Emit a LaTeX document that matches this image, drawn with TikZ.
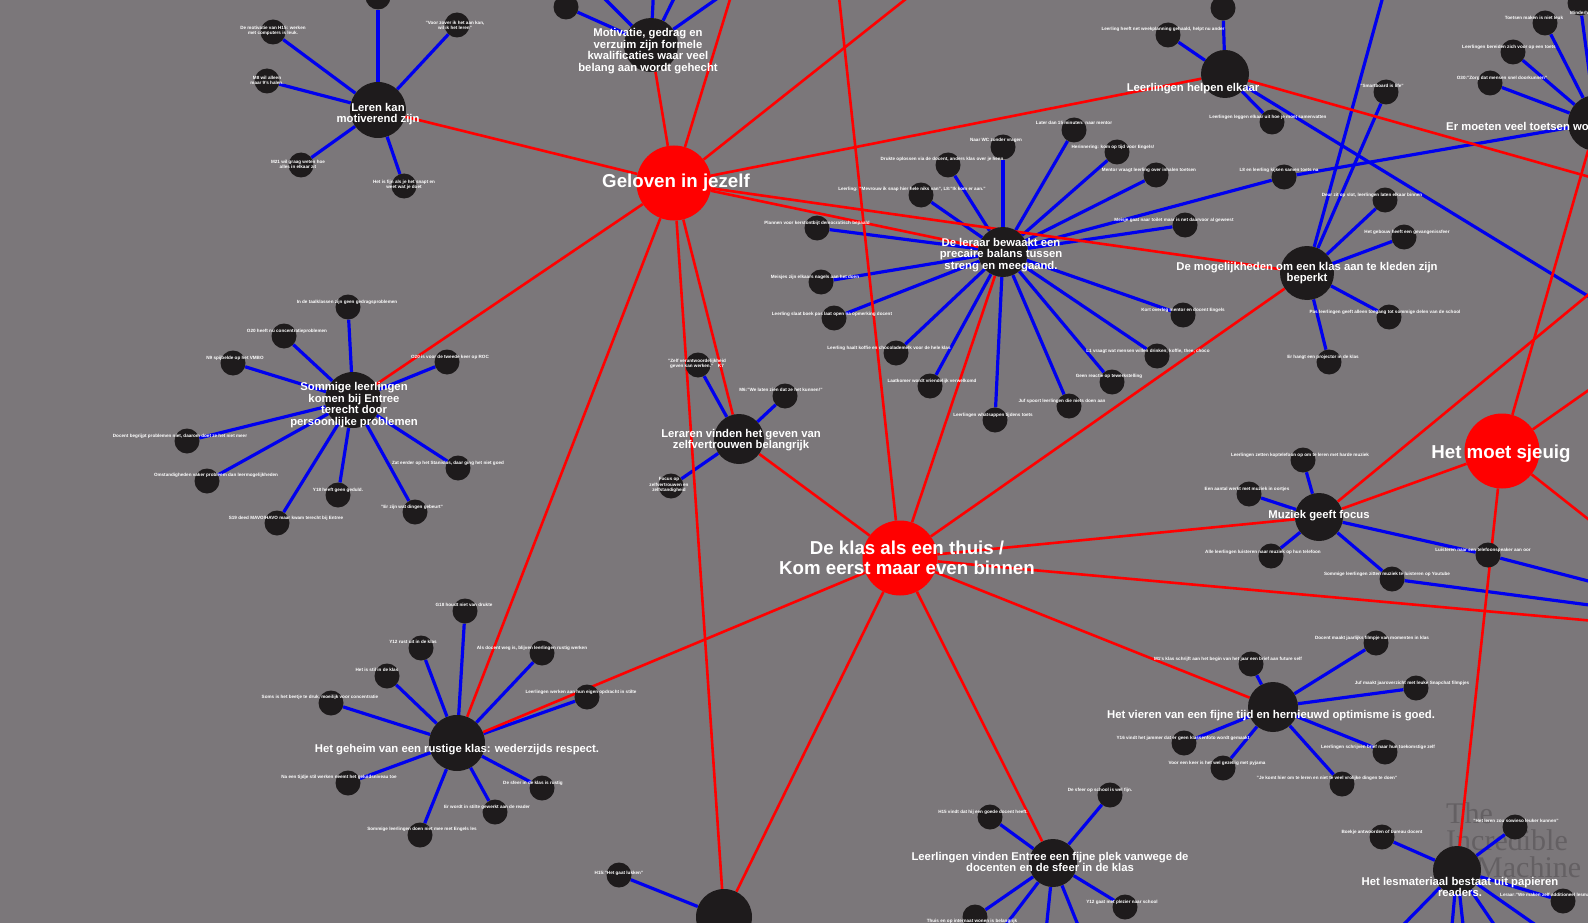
\documentclass[tikz,border=0pt]{standalone}
\usepackage{fontspec}
\setmainfont{Liberation Sans}
\newfontfamily\merkfont{Liberation Serif}
\usepackage{tikz}
\definecolor{achtergrond}{RGB}{123,119,122}
\definecolor{kernrood}{RGB}{255,0,0}
\definecolor{bolzwart}{RGB}{30,27,28}
\definecolor{lijnblauw}{RGB}{0,0,238}
\definecolor{merkgrijs}{RGB}{100,96,99}
\pgfdeclarelayer{bg}
\pgfdeclarelayer{lijnen}
\pgfsetlayers{bg,lijnen,main}

\begin{document}
\begin{tikzpicture}[x=1pt, y=-1pt,
	hub/.style={circle, fill=kernrood, minimum size=75pt, inner sep=0pt},
	thema/.style={circle, fill=bolzwart, minimum size=52pt, inner sep=0pt},
	blad/.style={circle, fill=bolzwart, minimum size=25pt, inner sep=0pt},
	hubtekst/.style={text=white, inner sep=0pt, align=center, font=\fontsize{18.7}{20}\selectfont\bfseries},
	thematekst/.style={text=white, inner sep=0pt, align=center, font=\fontsize{11.3}{11.6}\selectfont\bfseries},
	bladtekst/.style={text=white, inner sep=0pt, align=center, font=\fontsize{4.6}{5.2}\selectfont\bfseries},
	merk/.style={text=merkgrijs, inner sep=0pt, anchor=west, font=\merkfont\fontsize{30}{30}\selectfont},
	rood/.style={draw=kernrood, line width=2.6pt},
	blauw/.style={draw=lijnblauw, line width=3.2pt}]
	\useasboundingbox (0,0) rectangle (1588,923);
	\begin{pgfonlayer}{bg}
		\fill[achtergrond] (0,0) rectangle (1588,923);
		\node (wm1) at (1446,813) [merk] {The};
		\node (wm2) at (1446,840) [merk] {Incredible};
		\node (wm3) at (1476,867) [merk] {Machine};
	\end{pgfonlayer}

	\node (G) at (674,183) [hub] {};
	\node (K) at (900,558) [hub] {};
	\node (S) at (1502,451) [hub] {};

	\node (T1) at (378,110) [thema, minimum size=56pt] {};
	\node (T2) at (651,45) [thema, minimum size=54pt] {};
	\node (T3) at (1225,74) [thema, minimum size=48pt] {};
	\node (T4) at (1003,252) [thema, minimum size=50pt] {};
	\node (T5) at (1307,273) [thema, minimum size=54pt] {};
	\node (T6) at (1596,123) [thema, minimum size=56pt] {};
	\node (T7) at (353,400) [thema, minimum size=56pt] {};
	\node (T8) at (739,439) [thema, minimum size=50pt] {};
	\node (T9) at (1319,517) [thema, minimum size=48pt] {};
	\node (T10) at (457,743) [thema, minimum size=56pt] {};
	\node (T11) at (1273,707) [thema, minimum size=50pt] {};
	\node (T12) at (1053,863) [thema, minimum size=48pt] {};
	\node (T13) at (1457,870) [thema, minimum size=48pt] {};
	\node (T14) at (724,917) [thema, minimum size=56pt] {};

	\node (l1a) at (378,-3) [blad] {};
	\node (l1b) at (273,32) [blad] {};
	\node (l1c) at (267,81) [blad] {};
	\node (l1d) at (301,165) [blad] {};
	\node (l1e) at (404,186) [blad] {};
	\node (l1f) at (457,25) [blad] {};

	\node (l2a) at (566,7) [blad] {};

	\node (l3a) at (1223,8) [blad] {};
	\node (l3b) at (1168,35) [blad] {};
	\node (l3c) at (1272,122) [blad] {};

	\node (l4a) at (1003,147) [blad] {};
	\node (l4b) at (1074,130) [blad] {};
	\node (l4c) at (1117,152) [blad] {};
	\node (l4d) at (948,165) [blad] {};
	\node (l4e) at (1156,175) [blad] {};
	\node (l4f) at (921,195) [blad] {};
	\node (l4g) at (1284,177) [blad] {};
	\node (l4h) at (1185,225) [blad] {};
	\node (l4i) at (817,228) [blad] {};
	\node (l4j) at (821,282) [blad] {};
	\node (l4k) at (834,318) [blad] {};
	\node (l4l) at (896,353) [blad] {};
	\node (l4m) at (930,386) [blad] {};
	\node (l4n) at (995,420) [blad] {};
	\node (l4o) at (1069,406) [blad] {};
	\node (l4p) at (1112,382) [blad] {};
	\node (l4q) at (1157,356) [blad] {};
	\node (l4r) at (1183,315) [blad] {};

	\node (l5a) at (1386,92) [blad] {};
	\node (l5b) at (1385,200) [blad] {};
	\node (l5c) at (1404,237) [blad] {};
	\node (l5d) at (1389,317) [blad] {};
	\node (l5e) at (1329,362) [blad] {};

	\node (l6a) at (1545,23) [blad] {};
	\node (l6b) at (1513,52) [blad] {};
	\node (l6c) at (1490,83) [blad] {};
	\node (l6d) at (1580,3) [blad] {};

	\node (l7a) at (348,307) [blad] {};
	\node (l7b) at (284,336) [blad] {};
	\node (l7c) at (233,363) [blad] {};
	\node (l7d) at (447,362) [blad] {};
	\node (l7e) at (187,441) [blad] {};
	\node (l7f) at (207,481) [blad] {};
	\node (l7g) at (338,495) [blad] {};
	\node (l7h) at (277,523) [blad] {};
	\node (l7i) at (415,512) [blad] {};
	\node (l7j) at (458,468) [blad] {};

	\node (l8a) at (698,365) [blad] {};
	\node (l8b) at (785,396) [blad] {};
	\node (l8c) at (671,486) [blad] {};

	\node (l9a) at (1303,460) [blad] {};
	\node (l9b) at (1249,494) [blad] {};
	\node (l9c) at (1271,556) [blad] {};
	\node (l9d) at (1392,579) [blad] {};
	\node (l9e) at (1488,555) [blad] {};

	\node (l10a) at (465,611) [blad] {};
	\node (l10b) at (421,648) [blad] {};
	\node (l10c) at (387,676) [blad] {};
	\node (l10d) at (331,703) [blad] {};
	\node (l10e) at (542,653) [blad] {};
	\node (l10f) at (587,697) [blad] {};
	\node (l10g) at (348,783) [blad] {};
	\node (l10h) at (542,788) [blad] {};
	\node (l10i) at (495,812) [blad] {};
	\node (l10j) at (420,835) [blad] {};

	\node (l11a) at (1376,643) [blad] {};
	\node (l11b) at (1251,664) [blad] {};
	\node (l11c) at (1416,688) [blad] {};
	\node (l11d) at (1184,743) [blad] {};
	\node (l11e) at (1223,768) [blad] {};
	\node (l11f) at (1385,752) [blad] {};
	\node (l11g) at (1342,784) [blad] {};

	\node (l12a) at (990,817) [blad] {};
	\node (l12b) at (1110,795) [blad] {};
	\node (l12c) at (1125,907) [blad] {};
	\node (l12d) at (975,917) [blad] {};

	\node (l13a) at (1382,837) [blad] {};
	\node (l13b) at (1515,827) [blad] {};
	\node (l13c) at (1563,901) [blad] {};

	\node (l14a) at (619,875) [blad] {};

	\coordinate (t2u1) at (566,-40);
	\coordinate (t2u2) at (655,-40);
	\coordinate (t2u3) at (693,-40);
	\coordinate (t2u4) at (772,-40);
	\coordinate (t3u) at (1650,334);
	\coordinate (t3r) at (1650,194);
	\coordinate (t5u) at (1393,-40);
	\coordinate (t9a) at (1650,597);
	\coordinate (t9b) at (1650,613);
	\coordinate (t9r) at (1640,252);
	\coordinate (t12a) at (979,960);
	\coordinate (t12b) at (1043,960);
	\coordinate (t12c) at (1092,960);
	\coordinate (t13a) at (1359,970);
	\coordinate (t13b) at (1448,970);
	\coordinate (t13c) at (1468,970);
	\coordinate (t13d) at (1525,970);
	\coordinate (t13e) at (1600,970);
	\coordinate (gU1) at (742,-40);
	\coordinate (gU2) at (955,-40);
	\coordinate (kU) at (835,-40);
	\coordinate (kR) at (1650,626);
	\coordinate (sR1) at (1650,347);
	\coordinate (sR2) at (1650,568);

	\begin{pgfonlayer}{lijnen}
		\draw[blauw] (T1) edge (l1a) edge (l1b) edge (l1c) edge (l1d) edge (l1e) edge (l1f);
		\draw[blauw] (T2) edge (l2a) edge (t2u1) edge (t2u2) edge (t2u3) edge (t2u4);
		\draw[blauw] (T3) edge (l3a) edge (l3b) edge (l3c) edge (t3u);
		\draw[blauw] (T4) edge (l4a) edge (l4b) edge (l4c) edge (l4d) edge (l4e) edge (l4f)
			edge (l4g) edge (l4h) edge (l4i) edge (l4j) edge (l4k) edge (l4l)
			edge (l4m) edge (l4n) edge (l4o) edge (l4p) edge (l4q) edge (l4r);
		\draw[blauw] (T5) edge (l5a) edge (l5b) edge (l5c) edge (l5d) edge (l5e) edge (t5u);
		\draw[blauw] (T6) edge (l6a) edge (l6b) edge (l6c) edge (l6d) edge (l4g);
		\draw[blauw] (T7) edge (l7a) edge (l7b) edge (l7c) edge (l7d) edge (l7e)
			edge (l7f) edge (l7g) edge (l7h) edge (l7i) edge (l7j);
		\draw[blauw] (T8) edge (l8a) edge (l8b) edge (l8c);
		\draw[blauw] (T9) edge (l9a) edge (l9b) edge (l9c) edge (l9d) edge (l9e);
		\draw[blauw] (l9e) -- (t9a);
		\draw[blauw] (l9d) -- (t9b);
		\draw[blauw] (T10) edge (l10a) edge (l10b) edge (l10c) edge (l10d) edge (l10e)
			edge (l10f) edge (l10g) edge (l10h) edge (l10i) edge (l10j);
		\draw[blauw] (T11) edge (l11a) edge (l11b) edge (l11c) edge (l11d) edge (l11e)
			edge (l11f) edge (l11g);
		\draw[blauw] (T12) edge (l12a) edge (l12b) edge (l12c) edge (l12d)
			edge (t12a) edge (t12b) edge (t12c);
		\draw[blauw] (T13) edge (l13a) edge (l13b) edge (l13c)
			edge (t13a) edge (t13b) edge (t13c) edge (t13d) edge (t13e);
		\draw[blauw] (T14) -- (l14a);

		\draw[rood] (G) edge (T1) edge (T2) edge (gU1) edge (gU2) edge (T3) edge (T4)
			edge (T5) edge (T7) edge (T8) edge (T10) edge (T14);
		\draw[rood] (K) edge (T8) edge (T4) edge (T5) edge (T9) edge (kR) edge (T11)
			edge (T12) edge (T14) edge (T10) edge (kU);
		\draw[rood] (S) edge (T9) edge (T6) edge (sR1) edge (sR2) edge (T13);
		\draw[rood] (T9) -- (t9r);
		\draw[rood] (T3) -- (t3r);
	\end{pgfonlayer}

	\node (G-t) at (676,183) [hubtekst] {Geloven in jezelf};
	\node (K-t) at (907,558) [hubtekst] {De klas als een thuis /\\Kom eerst maar even binnen};
	\node (S-t) at (1501,454) [hubtekst] {Het moet sjeuig};

	\node (T1-t) at (378,114) [thematekst] {Leren kan\\motiverend zijn};
	\node (T2-t) at (648,51) [thematekst] {Motivatie, gedrag en\\verzuim zijn formele\\kwalificaties waar veel\\belang aan wordt gehecht};
	\node (T3-t) at (1193,89) [thematekst] {Leerlingen helpen elkaar};
	\node (T4-t) at (1001,255) [thematekst] {De leraar bewaakt een\\precaire balans tussen\\streng en meegaand.};
	\node (T5-t) at (1307,273) [thematekst] {De mogelijkheden om een klas aan te kleden zijn\\beperkt};
	\node (T6-t) at (1446,126) [thematekst, anchor=west] {Er moeten veel toetsen worden};
	\node (T7-t) at (354,405) [thematekst] {Sommige leerlingen\\komen bij Entree\\terecht door\\persoonlijke problemen};
	\node (T8-t) at (741,440) [thematekst] {Leraren vinden het geven van\\zelfvertrouwen belangrijk};
	\node (T9-t) at (1319,516) [thematekst] {Muziek geeft focus};
	\node (T10-t) at (457,750) [thematekst] {Het geheim van een rustige klas: wederzijds respect.};
	\node (T11-t) at (1271,716) [thematekst] {Het vieren van een fijne tijd en hernieuwd optimisme is goed.};
	\node (T12-t) at (1050,862) [thematekst] {Leerlingen vinden Entree een fijne plek vanwege de\\docenten en de sfeer in de klas};
	\node (T13-t) at (1460,887) [thematekst] {Het lesmateriaal bestaat uit papieren\\readers.};

	\node (l1b-t) at (273,31) [bladtekst] {De motivatie van H15: werken\\met computers is leuk.};
	\node (l1c-t) at (267,80) [bladtekst] {M8 wil alleen\\maar 9's halen.};
	\node (l1d-t) at (298,164) [bladtekst] {M21 wil graag weten hoe\\alles in elkaar zit};
	\node (l1e-t) at (404,185) [bladtekst] {Het is fijn als je het snapt en\\weet wat je doet};
	\node (l1f-t) at (455,25) [bladtekst] {"Voor zover ik het aan kan,\\wil ik het leren"};

	\node (l3b-t) at (1163,29) [bladtekst] {Leerling heeft net weekplanning gehaald, helpt nu ander};
	\node (l3c-t) at (1268,117) [bladtekst] {Leerlingen leggen elkaar uit hoe je moet samenvatten};

	\node (l4a-t) at (996,140) [bladtekst] {Naar WC zonder vragen};
	\node (l4b-t) at (1074,123) [bladtekst] {Later dan 15 minuten: naar mentor};
	\node (l4c-t) at (1113,147) [bladtekst] {Herinnering: kom op tijd voor Engels!};
	\node (l4d-t) at (942,159) [bladtekst] {Drukte oplossen via de docent, anders klas over je heen};
	\node (l4e-t) at (1149,170) [bladtekst] {Mentor vraagt leerling over inhalen toetsen};
	\node (l4f-t) at (912,189) [bladtekst] {Leerling: "Mevrouw ik snap hier hele niks van", L8:"Ik kom er aan."};
	\node (l4g-t) at (1279,170) [bladtekst] {L8 en leerling kijken samen toets na};
	\node (l4h-t) at (1174,220) [bladtekst] {Meisje gaat naar toilet maar is net daarvoor al geweest};
	\node (l4i-t) at (817,223) [bladtekst] {Plannen voor kerstontbijt democratisch bepaald};
	\node (l4j-t) at (815,277) [bladtekst] {Meisjes zijn elkaars nagels aan het doen};
	\node (l4k-t) at (832,314) [bladtekst] {Leerling slaat boek pas laat open na opmerking docent};
	\node (l4l-t) at (889,348) [bladtekst] {Leerling haalt koffie en chocolademelk voor de hele klas};
	\node (l4m-t) at (932,381) [bladtekst] {Laatkomer wordt vriendelijk verwelkomd};
	\node (l4n-t) at (993,415) [bladtekst] {Leerlingen whatsappen tijdens toets};
	\node (l4o-t) at (1062,401) [bladtekst] {Juf spoort leerlingen die niets doen aan};
	\node (l4p-t) at (1109,376) [bladtekst] {Geen reactie op tewerkstelling};
	\node (l4q-t) at (1148,351) [bladtekst] {L1 vraagt wat mensen willen drinken; koffie, thee, choco};
	\node (l4r-t) at (1183,310) [bladtekst] {Kort overleg mentor en docent Engels};

	\node (l5a-t) at (1382,86) [bladtekst] {"Smartboard is life"};
	\node (l5b-t) at (1372,195) [bladtekst] {Deur zit op slot, leerlingen laten elkaar binnen};
	\node (l5c-t) at (1407,232) [bladtekst] {Het gebouw heeft een gevangenissfeer};
	\node (l5d-t) at (1385,312) [bladtekst] {Pas leerlingen geeft alleen toegang tot sommige delen van de school};
	\node (l5e-t) at (1323,357) [bladtekst] {Er hangt een projector in de klas};

	\node (l6a-t) at (1534,18) [bladtekst] {Toetsen maken is niet leuk};
	\node (l6b-t) at (1509,47) [bladtekst] {Leerlingen bereiden zich voor op een toets};
	\node (l6c-t) at (1502,78) [bladtekst] {O30:"Zorg dat mensen snel doorkunnen"};
	\node (l6d-t) at (1570,13) [bladtekst, anchor=west] {Minderheid};

	\node (l7a-t) at (347,302) [bladtekst] {In de taalklassen zijn geen gedragsproblemen};
	\node (l7b-t) at (287,331) [bladtekst] {O20 heeft nu concentratieproblemen};
	\node (l7c-t) at (235,358) [bladtekst] {N9 spijbelde op het VMBO};
	\node (l7d-t) at (450,357) [bladtekst] {O20 is voor de tweede keer op ROC};
	\node (l7e-t) at (180,436) [bladtekst] {Docent begrijpt problemen niet, daarom doet ze het niet meer};
	\node (l7f-t) at (216,475) [bladtekst] {Omstandigheden vaker probleem dan leermogelijkheden};
	\node (l7g-t) at (338,490) [bladtekst] {Y18 heeft geen geduld.};
	\node (l7h-t) at (286,518) [bladtekst] {S19 deed MAVO/HAVO maar kwam terecht bij Entree};
	\node (l7i-t) at (412,507) [bladtekst] {"Er zijn wat dingen gebeurt"};
	\node (l7j-t) at (448,463) [bladtekst] {Zat eerder op het Stanislas, daar ging het niet goed};

	\node (l8a-t) at (697,364) [bladtekst] {"Zelf verantwoordelijkheid\\geven kan werken."\quad K7};
	\node (l8b-t) at (781,390) [bladtekst] {M6:"We laten zien dat ze het kunnen!"};
	\node (l8c-t) at (669,485) [bladtekst] {Focus op\\zelfvertrouwen en\\zelfstandigheid};

	\node (l9a-t) at (1300,455) [bladtekst] {Leerlingen zetten koptelefoon op om te leren met harde muziek};
	\node (l9b-t) at (1247,489) [bladtekst] {Een aantal werkt met muziek in oortjes};
	\node (l9c-t) at (1263,552) [bladtekst] {Alle leerlingen luisteren naar muziek op hun telefoon};
	\node (l9d-t) at (1387,574) [bladtekst] {Sommige leerlingen zitten muziek te luisteren op Youtube};
	\node (l9e-t) at (1483,550) [bladtekst] {Luisteren naar een telefoonspeaker aan oor};

	\node (l10a-t) at (464,605) [bladtekst] {G18 houdt niet van drukte};
	\node (l10b-t) at (413,642) [bladtekst] {Y12 rust uit in de klas};
	\node (l10c-t) at (377,670) [bladtekst] {Het is stil in de klas};
	\node (l10d-t) at (320,697) [bladtekst] {Soms is het beetje te druk, moeilijk voor concentratie};
	\node (l10e-t) at (532,648) [bladtekst] {Als docent weg is, blijven leerlingen rustig werken};
	\node (l10f-t) at (581,692) [bladtekst] {Leerlingen werken aan hun eigen opdracht in stilte};
	\node (l10g-t) at (339,777) [bladtekst] {Na een tijdje stil werken neemt het geluidsniveau toe};
	\node (l10h-t) at (533,783) [bladtekst] {De sfeer in de klas is rustig};
	\node (l10i-t) at (487,807) [bladtekst] {Er wordt in stilte gewerkt aan de reader};
	\node (l10j-t) at (422,829) [bladtekst] {Sommige leerlingen doen niet mee met Engels les};

	\node (l11a-t) at (1372,638) [bladtekst] {Docent maakt jaarlijks filmpje van momenten in klas};
	\node (l11b-t) at (1228,659) [bladtekst] {M1's klas schrijft aan het begin van het jaar een brief aan future self};
	\node (l11c-t) at (1412,683) [bladtekst] {Juf maakt jaaroverzicht met leuke Snapchat filmpjes};
	\node (l11d-t) at (1183,738) [bladtekst] {Y16 vindt het jammer dat er geen klassenfoto wordt gemaakt};
	\node (l11e-t) at (1217,763) [bladtekst] {Voor een keer is het wel gezellig met pyjama};
	\node (l11f-t) at (1378,747) [bladtekst] {Leerlingen schrijven brief naar hun toekomstige zelf};
	\node (l11g-t) at (1327,778) [bladtekst] {"Je komt hier om te leren en niet te veel vrolijke dingen te doen"};

	\node (l12a-t) at (983,812) [bladtekst] {H15 vindt dat hij een goede docent heeft.};
	\node (l12b-t) at (1100,790) [bladtekst] {De sfeer op school is wel fijn.};
	\node (l12c-t) at (1122,902) [bladtekst] {Y12 gaat met plezier naar school};
	\node (l12d-t) at (972,921) [bladtekst] {Thuis en op internaat wonen is belangrijk};

	\node (l13a-t) at (1382,832) [bladtekst] {Boekje antwoorden of bureau docent};
	\node (l13b-t) at (1516,821) [bladtekst] {"Het leren zou sowieso leuker kunnen"};
	\node (l13c-t) at (1500,895) [bladtekst, anchor=west] {Leraar:"We maken zelf additioneel lesmateriaal"};

	\node (l14a-t) at (619,873) [bladtekst] {H15:"Het gaat lukken"};
\end{tikzpicture}
\end{document}
